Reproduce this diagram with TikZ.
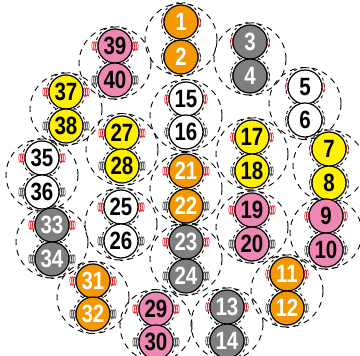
\documentclass[tikz,border=0pt]{standalone}
\usepackage{fontspec}
\newfontfamily\numfont[FakeStretch=0.82]{Liberation Sans}
\definecolor{corange}{HTML}{F39800}
\definecolor{cgray}{HTML}{7F7F7F}
\definecolor{cyellow}{HTML}{FFF100}
\definecolor{cpink}{HTML}{EE87B4}
\definecolor{cred}{HTML}{E8202A}
\definecolor{cdark}{HTML}{4A4A4A}
\tikzset{
  ball/.style={circle, draw=black, line width=1.2pt, minimum size=34pt, inner sep=0pt,
    font=\numfont\bfseries\fontsize{25}{25}\selectfont},
  pairring/.style={draw=black, dash pattern=on 6pt off 5pt, line width=0.9pt},
  halo/.style={draw=black, dash pattern=on 3pt off 3.5pt, line width=0.8pt},
  coil/.style={line width=0.6pt}
}
\def\pairs{1/181/22/181/57/corange/white/1, 3/250/42/250/76/cgray/white/1,
 5/305/87/305/120/white/black/1, 7/329/149/329/183/cyellow/black/1,
 9/326/216/326/250/cpink/black/2, 11/287/274/287/308/corange/white/2,
 13/227/307/227/341/cgray/white/2, 15/186/99/186/132/white/black/2,
 17/252/137/252/171/cyellow/black/2, 19/252/210/252/244/cpink/black/3,
 21/186/171/186/206/corange/white/3, 23/186/242/186/276/cgray/white/3,
 25/121/207/121/241/white/black/3, 27/122/133/122/166/cyellow/black/3,
 29/156/309/156/342/cpink/black/3, 31/93/281/93/314/corange/white/3,
 33/52/225/52/259/cgray/white/3, 35/42/158/42/192/white/black/3,
 37/66/92/66/126/cyellow/black/3, 39/115/46/115/80/cpink/black/3}
\begin{document}
\begin{tikzpicture}[x=1pt,y=-1pt]
\useasboundingbox (0,0) rectangle (360,356);
\clip (0,0) rectangle (360,356);
% pair rings
\foreach \n/\xa/\ya/\xb/\yb/\c/\t/\k in \pairs {
  \draw[pairring] ({(\xa+\xb)/2},{(\ya+\yb)/2}) circle (36pt);
}
% halos and coils
\foreach \n/\xa/\ya/\xb/\yb/\c/\t/\k in \pairs {
  \draw[halo] (\xa,\ya) circle (19.5pt);
  \draw[halo] (\xb,\yb) circle (19.5pt);
  \foreach \i in {1,...,\k} {
    \draw[coil, cred] ({\xa-18.3-(\i-1)*1.9},\ya) ellipse (1.1pt and 4.3pt);
    \draw[coil, cred] ({\xa+18.3+(\i-1)*1.9},\ya) ellipse (1.1pt and 4.3pt);
    \draw[coil, cdark] ({\xb-18.3-(\i-1)*1.9},\yb) ellipse (1.1pt and 4.3pt);
    \draw[coil, cdark] ({\xb+18.3+(\i-1)*1.9},\yb) ellipse (1.1pt and 4.3pt);
  }
}
% balls
\foreach \n/\xa/\ya/\xb/\yb/\c/\t/\k in \pairs {
  \pgfmathtruncatemacro\m{\n+1}
  \node[ball, fill=\c, text=\t] (b\n) at (\xa,\ya) {\n};
  \node[ball, fill=\c, text=\t] (b\m) at (\xb,\yb) {\m};
}
\end{tikzpicture}
\end{document}
